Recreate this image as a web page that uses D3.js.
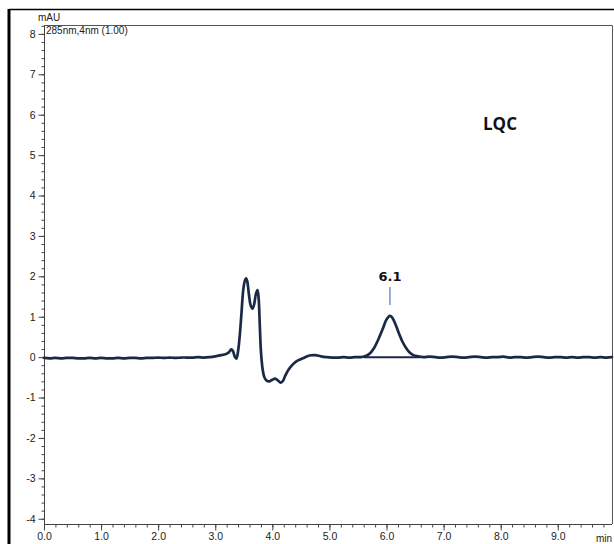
<!DOCTYPE html>
<html>
<head>
<meta charset="utf-8">
<script src="https://cdn.jsdelivr.net/npm/d3@7"></script>
<style>
  html, body { margin: 0; padding: 0; background: #fff; }
  svg { display: block; }
</style>
</head>
<body>
<svg id="chart" width="614" height="544"></svg>
<script>
// Chromatogram trace: retention time (min) and detector response (mAU)
const timeMin = [
  0.00, 0.10, 0.20, 0.30, 0.40, 0.50, 0.60, 0.70, 0.80, 0.90,
  1.00, 1.10, 1.20, 1.30, 1.40, 1.50, 1.60, 1.70, 1.80, 1.90,
  2.00, 2.10, 2.20, 2.30, 2.40, 2.50, 2.60, 2.70, 2.80, 2.90,
  3.00, 3.10, 3.18, 3.24, 3.28, 3.31, 3.34, 3.37, 3.40, 3.43,
  3.46, 3.49, 3.52, 3.54, 3.56, 3.59, 3.62, 3.65, 3.68, 3.71,
  3.74, 3.76, 3.78, 3.80, 3.83, 3.86, 3.90, 3.95, 4.00, 4.05,
  4.10, 4.14, 4.18, 4.22, 4.27, 4.32, 4.38, 4.45, 4.55, 4.65,
  4.75, 4.85, 4.95, 5.05, 5.15, 5.25, 5.35, 5.45, 5.55, 5.62,
  5.70, 5.78, 5.86, 5.94, 6.00, 6.06, 6.10, 6.16, 6.22, 6.28,
  6.34, 6.40, 6.47, 6.55, 6.65, 6.75, 6.85, 6.95, 7.05, 7.15,
  7.25, 7.35, 7.45, 7.55, 7.65, 7.75, 7.85, 7.95, 8.05, 8.15,
  8.25, 8.35, 8.45, 8.55, 8.65, 8.75, 8.85, 8.95, 9.05, 9.15,
  9.25, 9.35, 9.45, 9.55, 9.65, 9.75, 9.85, 9.95
];
const signalMAU = [
  -0.02, -0.03, -0.02, -0.03, -0.02, -0.02, -0.03, -0.03, -0.02, -0.03,
  -0.02, -0.03, -0.03, -0.02, -0.03, -0.02, -0.02, -0.03, -0.02, -0.02,
  -0.01, -0.02, -0.01, -0.02, -0.01, -0.01, -0.01, 0.00, -0.01, 0.00,
  0.02, 0.05, 0.07, 0.12, 0.19, 0.15, 0.02, -0.04, 0.15, 0.55,
  1.10, 1.66, 1.90, 1.95, 1.88, 1.55, 1.28, 1.20, 1.30, 1.55,
  1.66, 1.45, 0.80, 0.15, -0.30, -0.50, -0.58, -0.60, -0.56, -0.53,
  -0.58, -0.63, -0.60, -0.48, -0.34, -0.24, -0.15, -0.08, -0.02, 0.04,
  0.05, 0.02, 0.00, -0.01, -0.01, 0.00, -0.01, 0.00, 0.00, 0.02,
  0.08, 0.22, 0.45, 0.72, 0.93, 1.02, 0.98, 0.80, 0.58, 0.38,
  0.23, 0.12, 0.05, 0.02, 0.00, 0.01, 0.00, -0.01, 0.00, 0.01,
  0.00, -0.01, 0.00, 0.01, 0.00, -0.01, 0.00, 0.00, 0.01, -0.01,
  0.00, 0.00, -0.01, 0.00, 0.01, 0.00, -0.01, 0.00, 0.00, -0.01,
  0.00, -0.01, 0.00, 0.00, -0.01, 0.00, -0.01, 0.00
];

// Integrated peak: retention time, baseline start/end, label text
const peakRT = [6.06];
const peakLabel = ["6.1"];
const peakBaseStart = [5.60];
const peakBaseEnd = [6.58];

// Axis ticks
const xTickValues = [0, 1, 2, 3, 4, 5, 6, 7, 8, 9];
const yTickValues = [-4, -3, -2, -1, 0, 1, 2, 3, 4, 5, 6, 7, 8];

const yUnit = "mAU";
const xUnit = "min";
const channelText = "285nm,4nm (1.00)";
const sampleText = "LQC";

const svg = d3.select("#chart");

const plot = { left: 44, right: 612, top: 25, bottom: 524 };
const x = d3.scaleLinear().domain([0, 9.95]).range([plot.left, plot.right]);
const y = d3.scaleLinear().domain([-4.13, 8.22]).range([plot.bottom, plot.top]);

const axisColor = "#444";
const traceColor = "#1b2a44";
const labelFont = "Liberation Sans, Arial, sans-serif";

// plain hyphen for negative numbers
const fmtInt = v => String(v);
const fmtOne = v => v.toFixed(1);

// outer window frame
svg.append("line").attr("x1", 9).attr("x2", 614).attr("y1", 9.5).attr("y2", 9.5)
  .attr("stroke", "#000").attr("stroke-width", 1.5);
svg.append("line").attr("x1", 9).attr("x2", 9).attr("y1", 9).attr("y2", 544)
  .attr("stroke", "#000").attr("stroke-width", 3);

// plot box (top and right edges)
svg.append("path")
  .attr("d", `M${plot.left},${plot.top + 0.5}H${plot.right + 0.5}V${plot.bottom}`)
  .attr("fill", "none").attr("stroke", "#555").attr("stroke-width", 1);

// y axis: major + minor ticks
const yMinor = d3.range(-4.0, 8.21, 0.2).map(v => +v.toFixed(1));
const gy = svg.append("g").attr("transform", `translate(${plot.left + 0.5},0)`);
gy.append("g").call(d3.axisLeft(y).tickValues(yMinor).tickSize(3).tickFormat(""))
  .call(g => g.select(".domain").remove())
  .selectAll("line").attr("stroke", axisColor);
gy.append("g").call(d3.axisLeft(y).tickValues(yTickValues).tickSize(6).tickPadding(3)
    .tickFormat(fmtInt))
  .call(g => g.select(".domain").attr("stroke", axisColor).attr("d", `M0,${plot.top}V${plot.bottom}`))
  .call(g => g.selectAll("line").attr("stroke", axisColor))
  .call(g => g.selectAll("text").attr("fill", "#222")
    .attr("font-family", labelFont).attr("font-size", 10.5));

// x axis: major + minor ticks
const xMinor = d3.range(0, 9.95, 0.2).map(v => +v.toFixed(1));
const gx = svg.append("g").attr("transform", `translate(0,${plot.bottom + 0.5})`);
gx.append("g").call(d3.axisBottom(x).tickValues(xMinor).tickSize(3).tickFormat(""))
  .call(g => g.select(".domain").remove())
  .selectAll("line").attr("stroke", axisColor);
gx.append("g").call(d3.axisBottom(x).tickValues(xTickValues).tickSize(6).tickPadding(2)
    .tickFormat(fmtOne))
  .call(g => g.select(".domain").attr("stroke", axisColor).attr("d", `M${plot.left},0H${plot.right}`))
  .call(g => g.selectAll("line").attr("stroke", axisColor))
  .call(g => g.selectAll("text").attr("fill", "#222")
    .attr("font-family", labelFont).attr("font-size", 10.5));

// unit labels
svg.append("text").attr("x", 38).attr("y", 21).text(yUnit)
  .attr("font-family", labelFont).attr("font-size", 10).attr("fill", "#222");
svg.append("text").attr("x", 604).attr("y", 542).attr("text-anchor", "middle").text(xUnit)
  .attr("font-family", labelFont).attr("font-size", 10).attr("fill", "#222");
svg.append("text").attr("x", 46).attr("y", 34).text(channelText)
  .attr("font-family", labelFont).attr("font-size", 10).attr("fill", "#222");

// peak baseline
peakRT.forEach((rt, i) => {
  svg.append("line")
    .attr("x1", x(peakBaseStart[i])).attr("x2", x(peakBaseEnd[i]))
    .attr("y1", y(0)).attr("y2", y(0))
    .attr("stroke", traceColor).attr("stroke-width", 2);
});

// chromatogram trace
const points = timeMin.map((t, i) => [t, signalMAU[i]]);
const line = d3.line().x(d => x(d[0])).y(d => y(d[1])).curve(d3.curveCatmullRom.alpha(0.5));
svg.append("path").datum(points)
  .attr("d", line)
  .attr("fill", "none").attr("stroke", traceColor).attr("stroke-width", 2.7)
  .attr("stroke-linejoin", "round").attr("stroke-linecap", "round");

// retention-time label with marker
peakRT.forEach((rt, i) => {
  const apex = signalMAU[timeMin.indexOf(rt)];
  svg.append("line")
    .attr("x1", x(rt)).attr("x2", x(rt))
    .attr("y1", y(apex) - 11).attr("y2", y(apex) - 29)
    .attr("stroke", "#4a7cc0").attr("stroke-width", 1.2);
  svg.append("text").attr("x", x(rt)).attr("y", y(apex) - 35)
    .attr("text-anchor", "middle").text(peakLabel[i])
    .attr("font-family", "DejaVu Sans, Verdana, sans-serif").attr("font-weight", "bold")
    .attr("font-size", 13).attr("fill", "#111");
});

// sample name
svg.append("text").attr("x", 500).attr("y", 130).attr("text-anchor", "middle").text(sampleText)
  .attr("font-family", "Open Sans, Liberation Sans, sans-serif").attr("font-weight", "bold")
  .attr("font-size", 17).attr("fill", "#111");
</script>
</body>
</html>
